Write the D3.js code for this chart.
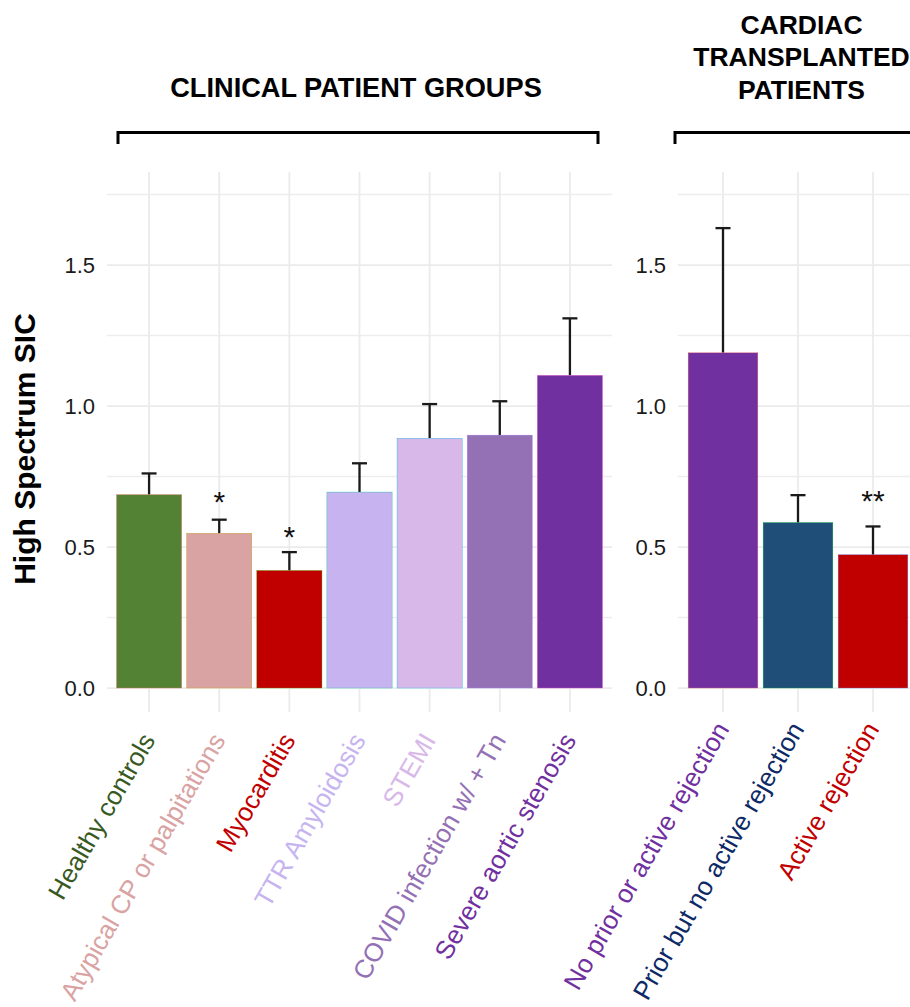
<!DOCTYPE html>
<html>
<head>
<meta charset="utf-8">
<script src="https://cdn.jsdelivr.net/npm/d3@7"></script>
<style>
  html, body { margin: 0; padding: 0; background: #ffffff; }
  svg { display: block; font-family: "Liberation Sans", Arial, Helvetica, sans-serif; }
</style>
</head>
<body>
<svg id="chart" width="910" height="1007"></svg>
<script>
// ---- Clinical patient groups ----
const clinicalGroups = [
  "Healthy controls",
  "Atypical CP or palpitations",
  "Myocarditis",
  "TTR Amyloidosis",
  "STEMI",
  "COVID infection w/ + Tn",
  "Severe aortic stenosis"
];
const clinicalMeans = [0.686, 0.549, 0.417, 0.695, 0.886, 0.897, 1.109];
const clinicalSE    = [0.075, 0.048, 0.065, 0.102, 0.121, 0.120, 0.202];
const clinicalStars = ["", "*", "*", "", "", "", ""];
const clinicalStarY = [null, 0.683, 0.560, null, null, null, null];

// ---- Cardiac transplanted patients ----
const transplantGroups = [
  "No prior or active rejection",
  "Prior but no active rejection",
  "Active rejection"
];
const transplantMeans = [1.189, 0.587, 0.473];
const transplantSE    = [0.442, 0.097, 0.100];
const transplantStars = ["", "", "**"];
const transplantStarY = [null, null, 0.688];

// ---- Axis ----
const yMajorTicks = [0, 0.5, 1.0, 1.5];
const yMinorTicks = [0.25, 0.75, 1.25, 1.75];
const yTickLabels = ["0.0", "0.5", "1.0", "1.5"];
const yTitle = "High Spectrum SIC";

// ---- Colours ----
const clinicalFill   = ["#548235", "#D9A3A3", "#C00000", "#C6B3F0", "#D7B8E9", "#9470B4", "#7030A0"];
const clinicalText   = ["#38591F", "#D9A3A3", "#C00000", "#C6B4F0", "#D7B8E9", "#9470B4", "#7030A0"];
const clinicalEdge   = ["#F8766D", "#C49A00", "#53B400", "#00C094", "#00B6EB", "#A58AFF", "#FB61D7"];
const transplantFill = ["#7030A0", "#1F4E79", "#C00000"];
const transplantText = ["#7030A0", "#0D2A66", "#C00000"];
const transplantEdge = ["#F8766D", "#00BA38", "#619CFF"];

const svg = d3.select("#chart");

// shared vertical scale
const y = d3.scaleLinear().domain([-0.085, 1.83]).range([712, 172]);

function drawPanel(opts) {
  const g = svg.append("g");
  const x = d3.scalePoint()
    .domain(opts.groups)
    .range([opts.left, opts.right])
    .padding(0.6);
  const barW = x.step() * 0.93;

  // grid
  g.selectAll("line.hminor").data(yMinorTicks).join("line")
    .attr("x1", opts.left).attr("x2", opts.right)
    .attr("y1", d => y(d)).attr("y2", d => y(d))
    .attr("stroke", "#EDEDED").attr("stroke-width", 1.5);
  g.selectAll("line.hmajor").data(yMajorTicks).join("line")
    .attr("x1", opts.left).attr("x2", opts.right)
    .attr("y1", d => y(d)).attr("y2", d => y(d))
    .attr("stroke", "#EBEBEB").attr("stroke-width", 1.8);
  g.selectAll("line.v").data(opts.groups).join("line")
    .attr("x1", d => x(d)).attr("x2", d => x(d))
    .attr("y1", y.range()[1]).attr("y2", y.range()[0])
    .attr("stroke", "#EBEBEB").attr("stroke-width", 1.8);

  // y axis labels
  const axis = d3.axisLeft(y)
    .tickValues(yMajorTicks)
    .tickFormat((d, i) => yTickLabels[i])
    .tickSize(0)
    .tickPadding(12);
  const ax = g.append("g").attr("transform", `translate(${opts.left},0)`).call(axis);
  ax.select(".domain").remove();
  ax.selectAll("text")
    .attr("font-size", 22)
    .attr("fill", "#1a1a1a")
    .style("font-family", '"Liberation Sans", Arial, sans-serif');

  const rows = opts.groups.map((name, i) => ({
    name, mean: opts.means[i], se: opts.se[i],
    fill: opts.fill[i], edge: opts.edge[i], text: opts.text[i],
    star: opts.stars[i], starY: opts.starY[i]
  }));

  // error bars (upper half)
  const capW = 15;
  const eb = g.selectAll("g.err").data(rows).join("g");
  eb.append("line")
    .attr("x1", d => x(d.name)).attr("x2", d => x(d.name))
    .attr("y1", d => y(d.mean)).attr("y2", d => y(d.mean + d.se))
    .attr("stroke", "#1a1a1a").attr("stroke-width", 2.3);
  eb.append("line")
    .attr("x1", d => x(d.name) - capW / 2).attr("x2", d => x(d.name) + capW / 2)
    .attr("y1", d => y(d.mean + d.se)).attr("y2", d => y(d.mean + d.se))
    .attr("stroke", "#1a1a1a").attr("stroke-width", 2.3);

  // bars
  g.selectAll("rect.bar").data(rows).join("rect")
    .attr("x", d => x(d.name) - barW / 2)
    .attr("width", barW)
    .attr("y", d => y(d.mean))
    .attr("height", d => y(0) - y(d.mean))
    .attr("fill", d => d.fill)
    .attr("stroke", d => d.edge)
    .attr("stroke-width", 0.35);

  // significance marks
  g.selectAll("text.star").data(rows.filter(d => d.star)).join("text")
    .attr("x", d => x(d.name))
    .attr("y", d => y(d.starY) + 17)
    .attr("text-anchor", "middle")
    .attr("font-size", 30)
    .attr("fill", "#111")
    .text(d => d.star);

  // category labels
  g.selectAll("text.cat").data(rows).join("text")
    .attr("transform", d => `translate(${x(d.name) + 7},${opts.labelY}) rotate(-60)`)
    .attr("text-anchor", "end")
    .attr("font-size", 26)
    .attr("fill", d => d.text)
    .text(d => d.name);

  return x;
}

drawPanel({
  groups: clinicalGroups, means: clinicalMeans, se: clinicalSE,
  stars: clinicalStars, starY: clinicalStarY,
  fill: clinicalFill, edge: clinicalEdge, text: clinicalText,
  left: 107, right: 612, labelY: 740
});
drawPanel({
  groups: transplantGroups, means: transplantMeans, se: transplantSE,
  stars: transplantStars, starY: transplantStarY,
  fill: transplantFill, edge: transplantEdge, text: transplantText,
  left: 678, right: 918, labelY: 729
});

// y axis title
svg.append("text")
  .attr("transform", "translate(35,449) rotate(-90)")
  .attr("text-anchor", "middle")
  .attr("font-size", 30)
  .attr("font-weight", "bold")
  .attr("fill", "#000")
  .text(yTitle);

// group headers with brackets
const headers = [
  { lines: ["CLINICAL PATIENT GROUPS"], cx: 356, baselines: [96.5], size: 27.2, x0: 118, x1: 598 },
  { lines: ["CARDIAC", "TRANSPLANTED", "PATIENTS"], cx: 801.5, baselines: [34, 66, 98.5], size: 26.5, x0: 675, x1: 930 }
];
headers.forEach(h => {
  h.lines.forEach((t, i) => {
    svg.append("text")
      .attr("x", h.cx).attr("y", h.baselines[i])
      .attr("text-anchor", "middle")
      .attr("font-size", h.size)
      .attr("font-weight", "bold")
      .attr("fill", "#000")
      .text(t);
  });
  svg.append("path")
    .attr("d", `M${h.x0},144 V132.5 H${h.x1} V144`)
    .attr("fill", "none")
    .attr("stroke", "#000")
    .attr("stroke-width", 3);
});
</script>
</body>
</html>
